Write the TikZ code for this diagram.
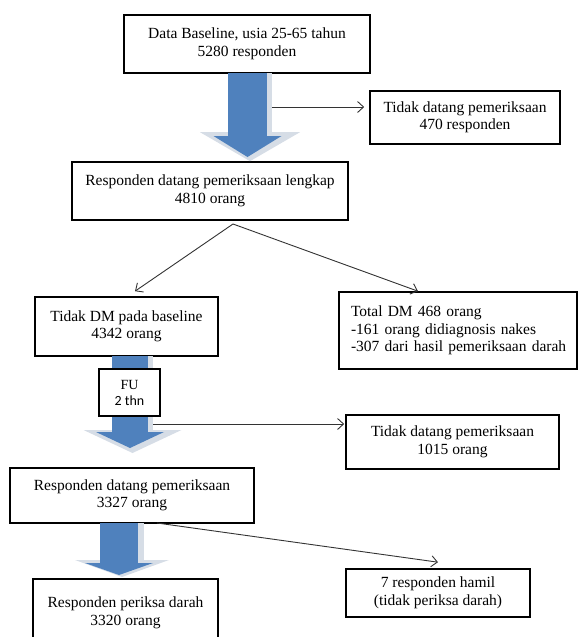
\documentclass[tikz,border=0pt]{standalone}
\usepackage{fontspec}
\setmainfont{Liberation Serif}
\newfontfamily\calibrifont{Carlito}
\usetikzlibrary{arrows.meta}
\definecolor{arrowblue}{RGB}{79,129,189}
\definecolor{arrowrim}{RGB}{214,221,230}
\tikzset{
  box/.style={draw=black, line width=1.6pt, align=center, inner sep=0pt, fill=white, font=\fontsize{15.5}{17.5}\selectfont},
  flow/.style={-{Straight Barb[length=6pt,width=11pt]}, line width=0.9pt, draw=black!80},
  fatrim/.style={draw=arrowrim, line width=#1},
  fatblue/.style={draw=arrowblue, line width=#1}
}

\begin{document}
\begin{tikzpicture}[x=1pt,y=-1pt]
  \path[use as bounding box, clip] (0,0) rectangle (579,637);

  \node[box, minimum width=246pt, minimum height=58pt] (base) at (247,44) {Data Baseline, usia 25-65 tahun\\5280 responden};
  \node[box, minimum width=190pt, minimum height=53pt] (absen1) at (465,117.5) {Tidak datang pemeriksaan\\470 responden};
  \node[box, minimum width=276pt, minimum height=58pt] (lengkap) at (210,191) {Responden datang pemeriksaan lengkap\\4810 orang};
  \node[box, minimum width=183pt, minimum height=59pt] (dm) at (126.5,326.5) {Tidak DM pada baseline\\4342 orang};
  \node[box, align=left, text width=222pt, inner xsep=8pt, minimum height=77pt] (totaldm) at (458,330.5) {\hspace*{4pt}Total DM 468 orang\\\hspace*{4pt}-161 orang didiagnosis nakes\\\hspace*{4pt}-307 dari hasil pemeriksaan darah};
  \node[box, minimum width=213pt, minimum height=54pt] (absen2) at (452.5,442) {Tidak datang pemeriksaan\\1015 orang};
  \node[box, minimum width=244pt, minimum height=55pt] (datang) at (132,495.5) {Responden datang pemeriksaan\\3327 orang};
  \node[box, minimum width=184pt, minimum height=48pt] (hamil) at (438,593) {7 responden hamil\\(tidak periksa darah)};
  \node[box, minimum width=185pt, minimum height=68pt] (periksa) at (125.5,613) {Responden periksa darah\\3320 orang};

  % fat arrows
  \coordinate (a1) at (250,73);
  \coordinate (a2) at (132.5,356);
  \coordinate (a3) at (122,523);
  \draw[fatrim=44pt, -{Triangle[length=29pt,width=100pt,line width=0pt]}] (a1) -- (a1 |- lengkap.north);
  \draw[fatblue=39pt, -{Triangle[length=21pt,width=68pt,line width=0pt]}] ([xshift=-2.5pt]a1) -- ++(0,84);
  \draw[fatrim=41pt, -{Triangle[length=23pt,width=98pt,line width=0pt]}] (a2) -- ++(0,97);
  \draw[fatblue=36pt, -{Triangle[length=16pt,width=68pt,line width=0pt]}] ([xshift=-2.5pt]a2) -- ++(0,92);
  \draw[fatrim=44pt, -{Triangle[length=17pt,width=94pt,line width=0pt]}] (a3) -- ++(0,54);
  \draw[fatblue=38pt, -{Triangle[length=12pt,width=68pt,line width=0pt]}] ([xshift=-3pt]a3) -- ++(0,52);

  \node[box, minimum width=61pt, minimum height=47pt, font=\fontsize{14}{16}\selectfont] (fu) at (129.5,392.5) {FU\\{\calibrifont 2 thn}};

  % thin connectors
  \coordinate (r1) at (272,107);
  \coordinate (apex) at (233,224);
  \coordinate (r2) at (153,424);
  \coordinate (r3) at (157,523);
  \draw[flow, shorten >=5pt] (r1) -- (r1 -| absen1.west);
  \draw[flow] (apex) -- ([xshift=8.5pt,yshift=5pt]dm.north);
  \draw[flow] (apex) -- ([xshift=-40pt]totaldm.north);
  \draw[flow, shorten >=1pt] (r2) -- (r2 -| absen2.west);
  \draw[flow] (r3) -- ([yshift=6pt]hamil.north);
\end{tikzpicture}
\end{document}
